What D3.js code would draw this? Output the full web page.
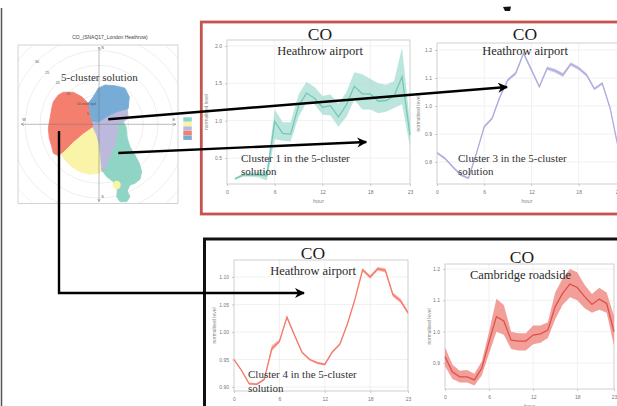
<!DOCTYPE html>
<html><head><meta charset="utf-8">
<script src="https://cdn.jsdelivr.net/npm/d3@7"></script>
<style>html,body{margin:0;padding:0;background:#fff;}svg{display:block}</style>
</head><body><svg id="c" width="617" height="406"></svg>
<script>
// ---------------- DATA ----------------
const hours = d3.range(24);
const xTicks = [0, 6, 12, 18, 23];

// Panel A : Heathrow airport, cluster 1 (teal)
const c1Mean = [null,0.22,0.27,0.27,0.27,0.26,0.99,0.83,0.82,1.20,1.37,1.30,1.18,1.20,1.05,1.21,1.46,1.36,1.36,1.26,1.27,1.33,1.59,0.81];
const c1Lo   = [null,0.21,0.25,0.25,0.24,0.20,0.75,0.73,0.72,1.05,1.25,1.22,1.08,1.07,0.92,1.05,1.28,1.15,1.15,1.10,1.12,1.17,1.22,0.65];
const c1Hi   = [null,0.24,0.29,0.30,0.31,0.33,1.15,0.98,0.98,1.35,1.52,1.45,1.33,1.35,1.23,1.38,1.65,1.62,1.56,1.50,1.48,1.53,1.98,0.97];
const c1Ticks = [0.5, 1.0, 1.5, 2.0];

// Panel B : Heathrow airport, cluster 3 (lavender)
const c3Mean = [0.833,0.813,0.783,0.754,0.742,0.830,0.926,0.956,1.033,1.093,1.117,1.188,1.129,1.069,1.135,1.126,1.111,1.150,1.135,1.111,1.061,1.081,0.992,0.855];
const c3Lo   = [0.829,0.809,0.779,0.750,0.738,0.826,0.921,0.951,1.028,1.088,1.111,1.182,1.123,1.064,1.129,1.119,1.104,1.144,1.129,1.105,1.056,1.076,0.987,0.850];
const c3Hi   = [0.837,0.817,0.787,0.758,0.746,0.834,0.931,0.961,1.038,1.098,1.123,1.194,1.135,1.074,1.141,1.133,1.118,1.156,1.141,1.117,1.066,1.086,0.997,0.860];
const c3Ticks = [0.8, 0.9, 1.0, 1.1, 1.2];

// Panel C : Heathrow airport, cluster 4 (salmon)
const c4Mean = [0.950,0.930,0.906,0.905,0.914,0.970,0.983,1.027,0.994,0.963,0.950,0.944,0.941,0.964,0.978,1.015,1.060,1.113,1.100,1.115,1.112,1.068,1.057,1.035];
const c4Lo   = [0.948,0.928,0.904,0.903,0.912,0.965,0.980,1.024,0.992,0.961,0.948,0.942,0.939,0.962,0.976,1.013,1.058,1.110,1.097,1.112,1.108,1.064,1.053,1.032];
const c4Hi   = [0.952,0.932,0.908,0.907,0.916,0.976,0.986,1.030,0.996,0.965,0.952,0.946,0.943,0.966,0.980,1.017,1.062,1.116,1.103,1.118,1.116,1.072,1.061,1.038];
const c4Ticks = [0.90, 0.95, 1.00, 1.05, 1.10];

// Panel D : Cambridge roadside (red)
const cbMean = [0.920,0.872,0.856,0.856,0.846,0.883,0.968,1.048,1.034,0.973,0.970,0.970,0.989,0.993,1.005,1.080,1.122,1.152,1.141,1.112,1.087,1.104,1.090,1.000];
const cbLo   = [0.890,0.850,0.838,0.838,0.828,0.860,0.930,1.000,0.990,0.945,0.940,0.940,0.960,0.965,0.980,1.040,1.085,1.110,1.100,1.075,1.060,1.070,1.060,0.955];
const cbHi   = [0.950,0.895,0.875,0.878,0.866,0.905,1.000,1.105,1.085,1.000,0.995,0.995,1.020,1.020,1.030,1.125,1.170,1.200,1.190,1.150,1.120,1.140,1.125,1.050];
const cbTicks = [0.9, 1.0, 1.1, 1.2];

// Polar (wind-speed) cluster regions, [u, v] components in wind speed units
const cluster1 = [[6.54,0],[8.24,0.88],[9.15,-0.81],[9.59,-4.75],[10.51,-7.59],[12.2,-10.41],[13.66,-13.22],[14.47,-16.07],[13.9,-18.64],[12.2,-20.0],[10.51,-20.58],[9.59,-22.61],[10.51,-24.54],[9.39,-26.24],[7.12,-26.24],[6.0,-24.54],[6.2,-22.27],[4.85,-19.46],[2.61,-17.76],[1.46,-16.27],[0.92,-15.83],[2.03,-14.92],[3.15,-12.10],[4.31,-9.29],[5.42,-7.02],[6.0,-3.63]];
const cluster2 = [[-2.14,-0.81],[-0.78,-3.63],[0.10,-7.02],[0.58,-11.53],[0.92,-15.83],[-0.24,-16.61],[-3.05,-16.95],[-6.44,-16.07],[-9.25,-14.37],[-11.53,-12.10],[-12.64,-10.41],[-12.1,-9.29],[-8.71,-5.90],[-5.32,-3.05]];
const cluster2Islet = [6.0, -20.58, 1.4];
const cluster3 = [[-2.47,1.12],[-0.24,0.68],[2.61,2.58],[6.0,4.27],[9.59,5.19],[9.93,2.03],[8.24,0.88],[6.54,0],[6.0,-3.63],[5.42,-7.02],[4.31,-9.29],[3.15,-12.10],[2.03,-14.92],[0.92,-15.83],[0.58,-11.53],[0.10,-7.02],[-0.78,-3.63],[-2.14,-0.81]];
const cluster4 = [[-12.1,10.85],[-8.71,10.85],[-5.86,9.36],[-3.63,7.12],[-3.05,4.27],[-2.47,1.12],[-2.14,-0.81],[-5.32,-3.05],[-8.71,-5.90],[-12.1,-9.29],[-13.8,-10.64],[-15.49,-9.83],[-16.03,-7.59],[-16.85,-4.75],[-17.19,-1.36],[-16.61,2.03],[-16.03,5.42],[-15.49,7.66],[-13.8,9.93]];
const cluster5 = [[-3.63,7.12],[-1.93,9.36],[-0.24,12.20],[2.03,13.32],[5.42,13.08],[8.81,12.20],[10.27,9.36],[9.93,5.42],[9.59,5.19],[6.0,4.27],[2.61,2.58],[-0.24,0.68],[-2.47,1.12],[-3.05,4.27]];
const clusterColors = ["#8fd4c4", "#f9f4a8", "#bdb9dc", "#f47f6e", "#76acd6"];
const ringSpeeds = [5, 10, 15, 20, 25, 30, 35];
const ringLabels = ["5", "10 wind spd", "15", "20", "25", "30"];

// ---------------- DRAW ----------------
const svg = d3.select("#c");
const serif = "'Liberation Serif','Times New Roman',serif";
const sans = "'Liberation Sans',Arial,sans-serif";
const defs = svg.append("defs");
defs.append("marker").attr("id","ah").attr("markerUnits","userSpaceOnUse")
  .attr("markerWidth",12).attr("markerHeight",12).attr("refX",9).attr("refY",5).attr("orient","auto")
  .append("path").attr("d","M0,0 L10,5 L0,10 L3,5 Z").attr("fill","#000");
defs.append("marker").attr("id","sa").attr("markerUnits","userSpaceOnUse")
  .attr("markerWidth",4).attr("markerHeight",4).attr("refX",3).attr("refY",1.5).attr("orient","auto-start-reverse")
  .append("path").attr("d","M0,0 L3,1.5 L0,3").attr("fill","none").attr("stroke","#777").attr("stroke-width",0.5);

svg.append("rect").attr("width",617).attr("height",406).attr("fill","#fff");
// page edge line
svg.append("line").attr("x1",1.5).attr("x2",1.5).attr("y1",8).attr("y2",406).attr("stroke","#555").attr("stroke-width",1.5);
svg.append("path").attr("d","M503,7 L511,6.5 L510,11 L505,11 Z").attr("fill","#111");

function panel(cfg) {
  const x = d3.scaleLinear().domain([0, 23]).range([cfg.x0, cfg.x1]);
  const y = d3.scaleLinear().domain(cfg.yDom).range(cfg.yRng);
  const g = svg.append("g");
  // grid
  g.selectAll(".gy").data(cfg.ticks).join("line")
    .attr("x1", cfg.x0).attr("x2", cfg.x1).attr("y1", d=>y(d)).attr("y2", d=>y(d))
    .attr("stroke","#ebebeb").attr("stroke-width",0.7);
  g.selectAll(".gx").data([6,12,18]).join("line")
    .attr("x1", d=>x(d)).attr("x2", d=>x(d)).attr("y1", cfg.yTop).attr("y2", cfg.yBot)
    .attr("stroke","#ebebeb").attr("stroke-width",0.7);
  g.append("rect").attr("x",cfg.x0).attr("y",cfg.yTop).attr("width",cfg.x1-cfg.x0).attr("height",cfg.yBot-cfg.yTop)
    .attr("fill","none").attr("stroke","#c4c4c4").attr("stroke-width",0.8);
  // axes
  const ay = g.append("g").attr("transform",`translate(${cfg.x0},0)`)
    .call(d3.axisLeft(y).tickValues(cfg.ticks).tickSize(2).tickPadding(3).tickFormat(d3.format(cfg.fmt)));
  const ax = g.append("g").attr("transform",`translate(0,${cfg.yBot})`)
    .call(d3.axisBottom(x).tickValues(xTicks).tickSize(2).tickPadding(4).tickFormat(d3.format("d")));
  [ay, ax].forEach(a => {
    a.select(".domain").remove();
    a.selectAll("line").attr("stroke","#aaa").attr("stroke-width",0.6);
    a.selectAll("text").attr("font-family",sans).attr("font-size",5).attr("fill","#777");
  });
  g.append("text").attr("x", (cfg.x0+Math.min(cfg.x1,617))/2).attr("y", cfg.yBot+19)
    .attr("text-anchor","middle").attr("font-family",sans).attr("font-size",5.5).attr("fill","#888").text("hour");
  g.append("text").attr("transform",`translate(${cfg.ylabX},${(cfg.yTop+cfg.yBot)/2}) rotate(-90)`)
    .attr("text-anchor","middle").attr("font-family",sans).attr("font-size",5).attr("fill","#888").text("normalised level");
  const rows = hours.map(h => ({h, m: cfg.mean[h], lo: cfg.lo[h], hi: cfg.hi[h]}));
  g.append("path").datum(rows)
    .attr("d", d3.area().defined(d=>d.m!=null).x(d=>x(d.h)).y0(d=>y(d.lo)).y1(d=>y(d.hi)))
    .attr("fill", cfg.band).attr("fill-opacity", cfg.bandOp);
  g.append("path").datum(rows)
    .attr("d", d3.line().defined(d=>d.m!=null).x(d=>x(d.h)).y(d=>y(d.m)))
    .attr("fill","none").attr("stroke", cfg.line).attr("stroke-width", 1.3);
  // titles
  g.append("text").attr("x",cfg.tx).attr("y",cfg.coY).attr("text-anchor","middle")
    .attr("font-family",serif).attr("font-size",17.5).attr("fill","#1a1a1a").text("CO");
  g.append("text").attr("x",cfg.tx2).attr("y",cfg.siteY).attr("text-anchor","middle")
    .attr("font-family",serif).attr("font-size",12.5).attr("fill","#2a2a2a").text(cfg.site);
  if (cfg.note) {
    g.append("text").attr("x",cfg.noteX).attr("y",cfg.noteY)
      .attr("font-family",serif).attr("font-size",11).attr("fill","#333").text(cfg.note);
    g.append("text").attr("x",cfg.noteX).attr("y",cfg.noteY+13.5)
      .attr("font-family",serif).attr("font-size",11).attr("fill","#333").text("solution");
  }
  return {x, y};
}

const pA = panel({x0:227,x1:410,yTop:40,yBot:184,yDom:[0.5,2.0],yRng:[158,46],ticks:c1Ticks,fmt:".1f",ylabX:208,
  mean:c1Mean,lo:c1Lo,hi:c1Hi,line:"#73c8b5",band:"#9fdccf",bandOp:0.7,
  tx:320,tx2:320,coY:39.5,siteY:54.5,site:"Heathrow airport",note:"Cluster 1 in the 5-cluster",noteX:241,noteY:161.5});
const pB = panel({x0:437,x1:618,yTop:43,yBot:184,yDom:[0.8,1.2],yRng:[162,50],ticks:c3Ticks,fmt:".1f",ylabX:420,
  mean:c3Mean,lo:c3Lo,hi:c3Hi,line:"#aeacdc",band:"#c9c7e8",bandOp:0.9,
  tx:525,tx2:525,coY:39.5,siteY:54.5,site:"Heathrow airport",note:"Cluster 3 in the 5-cluster",noteX:458,noteY:161.5});
const pC = panel({x0:234,x1:408,yTop:260,yBot:391,yDom:[0.90,1.10],yRng:[387,277],ticks:c4Ticks,fmt:".2f",ylabX:216,
  mean:c4Mean,lo:c4Lo,hi:c4Hi,line:"#f57a6b",band:"#f9aaa0",bandOp:0.9,
  tx:313,tx2:313,coY:259,siteY:275,site:"Heathrow airport",note:"Cluster 4 in the 5-cluster",noteX:248,noteY:378});
const pD = panel({x0:445,x1:614,yTop:264,yBot:389,yDom:[0.9,1.2],yRng:[363,269],ticks:cbTicks,fmt:".1f",ylabX:431,
  mean:cbMean,lo:cbLo,hi:cbHi,line:"#e0504a",band:"#f08e88",bandOp:0.85,
  tx:522,tx2:520.5,coY:263,siteY:278.5,site:"Cambridge roadside",note:null});

// framing boxes
svg.append("rect").attr("x",201.3).attr("y",22).attr("width",600).attr("height",192)
  .attr("fill","none").attr("stroke","#c4544d").attr("stroke-width",2.8);
svg.append("rect").attr("x",204.5).attr("y",239).attr("width",600).attr("height",300)
  .attr("fill","none").attr("stroke","#111").attr("stroke-width",3);

// ---------------- POLAR PANEL ----------------
const px = d3.scaleLinear().domain([-27.46, 26.78]).range([18, 178]);
const py = d3.scaleLinear().domain([-26.85, 26.88]).range([203.5, 45]);
const k = px(1) - px(0);
svg.append("text").attr("x",110).attr("y",38.5).attr("text-anchor","middle")
  .attr("font-family",sans).attr("font-size",5).attr("fill","#444").text("CO_(SNAQ17_London Heathrow)");
defs.append("clipPath").attr("id","pc").append("rect").attr("x",18).attr("y",45).attr("width",160).attr("height",158.5);
const pg = svg.append("g").attr("clip-path","url(#pc)");
pg.selectAll(".ring").data(ringSpeeds).join("circle")
  .attr("cx",px(0)).attr("cy",py(0)).attr("r",d=>d*k)
  .attr("fill","none").attr("stroke","#e2e2e2").attr("stroke-width",0.6);
const poly = d3.line().x(d=>px(d[0])).y(d=>py(d[1])).curve(d3.curveLinearClosed);
[cluster1, cluster2, cluster3, cluster4, cluster5].forEach((c, i) => {
  pg.append("path").attr("d", poly(c)).attr("fill", clusterColors[i])
    .attr("stroke", clusterColors[i]).attr("stroke-width", 0.8).attr("stroke-linejoin","round");
});
pg.append("circle").attr("cx",px(cluster2Islet[0])).attr("cy",py(cluster2Islet[1])).attr("r",cluster2Islet[2]*k)
  .attr("fill",clusterColors[1]);
// axes with arrowheads
svg.append("line").attr("x1",px(-26.4)).attr("x2",px(26.1)).attr("y1",py(0)).attr("y2",py(0))
  .attr("stroke","#777").attr("stroke-width",0.5).attr("marker-start","url(#sa)").attr("marker-end","url(#sa)");
svg.append("line").attr("x1",px(0)).attr("x2",px(0)).attr("y1",py(26.2)).attr("y2",py(-26.2))
  .attr("stroke","#777").attr("stroke-width",0.5).attr("marker-start","url(#sa)").attr("marker-end","url(#sa)");
svg.append("rect").attr("x",18).attr("y",45).attr("width",160).attr("height",158.5)
  .attr("fill","none").attr("stroke","#c8c8c8").attr("stroke-width",0.8);
// ring labels (NW)
const ang = 135 * Math.PI / 180;
svg.selectAll(".rl").data(ringLabels).join("text")
  .attr("x",(d,i)=>px(ringSpeeds[i]*Math.cos(ang)) - 1.5)
  .attr("y",(d,i)=>py(ringSpeeds[i]*Math.sin(ang)) + 1.5)
  .attr("font-family",sans).attr("font-size",3.6).attr("fill","#555").text(d=>d);
const compass = [["N",0,25.5,1.5,1],["E",25,1,0,-1],["W",-25.5,1,-1,-1],["S",0,-25,1.5,1]];
svg.selectAll(".cp").data(compass).join("text")
  .attr("x",d=>px(d[1])+d[3]*1.5).attr("y",d=>py(d[2]))
  .attr("font-family",sans).attr("font-size",3.6).attr("fill","#555").text(d=>d[0]);
// legend
svg.selectAll(".lg").data(clusterColors).join("rect")
  .attr("x",183.3).attr("y",(d,i)=>117.3+i*4.55).attr("width",8.5).attr("height",4.4).attr("fill",d=>d);
svg.append("text").attr("x",61).attr("y",81).attr("font-family",serif).attr("font-size",11).attr("fill","#333")
  .text("5-cluster solution");

// ---------------- ARROWS ----------------
const arrow = d3.line();
svg.append("path").attr("d", arrow([[px(3.15),py(1.7)],[pB.x(8.9),pB.y(1.068)]]))
  .attr("fill","none").attr("stroke","#000").attr("stroke-width",2.4).attr("marker-end","url(#ah)");
svg.append("path").attr("d", arrow([[px(6.54),py(-9.73)],[pA.x(17.5),pA.y(0.714)]]))
  .attr("fill","none").attr("stroke","#000").attr("stroke-width",2.4).attr("marker-end","url(#ah)");
svg.append("path").attr("d", arrow([[px(-13.56),py(-2.27)],[px(-13.56),pC.y(1.071)],[pC.x(9.25),pC.y(1.071)]]))
  .attr("fill","none").attr("stroke","#000").attr("stroke-width",2.4).attr("marker-end","url(#ah)");
</script></body></html>
